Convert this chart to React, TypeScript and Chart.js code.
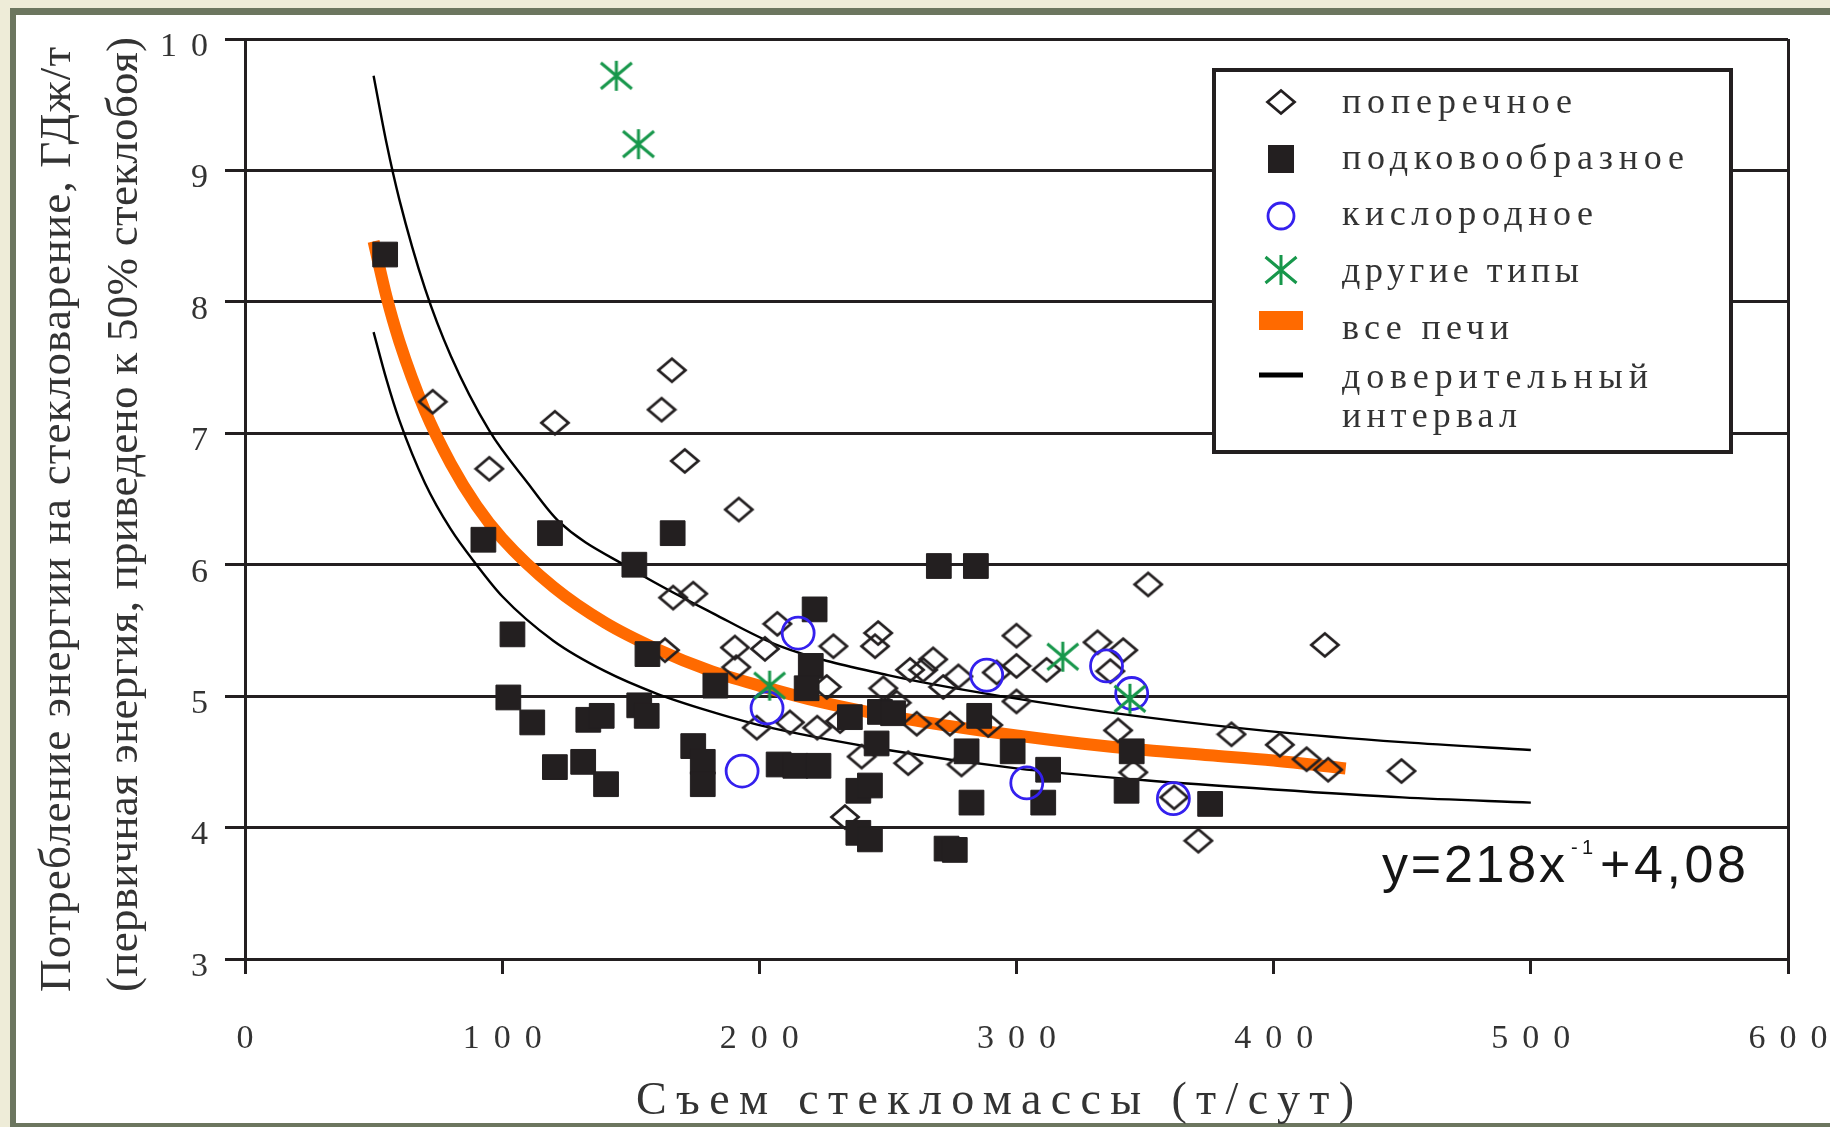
import React, { useEffect, useRef } from 'react';
import { Chart, registerables } from 'chart.js';

Chart.register(...registerables);

// ---------------- data ----------------
const seriesLabels = ['поперечное', 'подковообразное', 'кислородное', 'другие типы', 'все печи', 'доверительный интервал'];

const xTickValues = [0, 100, 200, 300, 400, 500, 600];
const yTickValues = [3, 4, 5, 6, 7, 8, 9, 10];

const xTitle = 'Съем стекломассы (т/сут)';
const yTitleLines = ['Потребление энергии на стекловарение, ГДж/т', '(первичная энергия, приведено к 50% стеклобоя)'];
const equationHead = 'y=218x';
const equationSup = '-1';
const equationTail = '+4,08';

// поперечное (hollow diamonds)
const transverseX = [73, 95, 120.5, 162, 166, 171, 192, 166.5, 174.3, 163.3, 190.5, 191, 202.2, 207, 199, 211.9, 222.5, 228.8, 226.2, 231.4, 239.8, 233.3, 246.2, 245, 248.2, 253.4, 258.6, 263.7, 267.6, 271.5, 277.4, 261.2, 257.9, 274.1, 278.6, 289, 292.3, 300, 300, 300, 311.7, 331.5, 341.5, 336.5, 339.5, 345.4, 351.2, 361.3, 370.7, 383.6, 402.4, 412.8, 421.2, 419.9, 449.7];
const transverseY = [7.24, 6.73, 7.08, 7.18, 7.48, 6.79, 6.42, 5.75, 5.78, 5.35, 5.37, 5.22, 5.36, 5.55, 4.76, 4.80, 4.76, 5.38, 5.07, 4.81, 4.54, 4.08, 5.48, 5.38, 5.06, 4.95, 5.20, 5.20, 5.28, 5.07, 5.15, 4.79, 4.49, 4.79, 4.48, 4.78, 5.18, 5.46, 5.23, 4.96, 5.20, 5.41, 5.35, 5.19, 4.74, 4.42, 5.85, 4.23, 3.90, 4.71, 4.63, 4.52, 4.44, 5.39, 4.43];

// подковообразное (filled squares)
const horseshoeX = [54.5, 92.7, 118.6, 166.3, 151.4, 104, 102.4, 111.7, 133.5, 138.7, 153.3, 156.2, 156.5, 182.9, 120.5, 131.5, 140.4, 174.3, 178, 178, 207.5, 214, 223, 221.5, 220, 218.4, 235.2, 246.9, 252, 245.6, 238.5, 243, 238.5, 243, 272.8, 276, 269.8, 284.2, 285.5, 280.6, 298.5, 312.3, 282.5, 310.4, 344.8, 342.8, 375.3];
const horseshoeY = [8.36, 6.19, 6.24, 6.24, 6.00, 5.47, 4.99, 4.80, 4.82, 4.85, 4.93, 4.85, 5.32, 5.08, 4.46, 4.50, 4.33, 4.62, 4.50, 4.33, 4.48, 4.47, 4.47, 5.66, 5.23, 5.06, 4.84, 4.88, 4.87, 4.64, 4.28, 4.32, 3.96, 3.91, 3.84, 3.83, 5.99, 5.99, 4.85, 4.58, 4.58, 4.44, 4.19, 4.19, 4.58, 4.28, 4.18];

// кислородное (blue circles)
const oxyX = [193.3, 203, 215.1, 288.4, 304, 335, 344.8, 361];
const oxyY = [4.43, 4.91, 5.48, 5.16, 4.34, 5.23, 5.02, 4.22];

// другие типы (green asterisks)
const otherX = [144.4, 153, 204, 318, 344.1];
const otherY = [9.72, 9.20, 5.08, 5.30, 4.98];

// все печи (orange curve)
const fitX = [50, 55, 60, 70, 80, 90, 100, 120, 140, 160, 180, 200, 225, 250, 275, 300, 325, 350, 375, 400, 428];
const fitY = [8.46, 8.04, 7.70, 7.17, 6.77, 6.45, 6.20, 5.83, 5.56, 5.36, 5.20, 5.08, 4.95, 4.85, 4.77, 4.70, 4.64, 4.59, 4.55, 4.51, 4.45];

// доверительный интервал (two thin black curves)
const upperX = [50, 55, 60, 70, 80, 95, 110, 122, 150, 182, 208, 250, 294, 350, 400, 450, 500];
const upperY = [9.72, 9.21, 8.78, 8.10, 7.59, 7.02, 6.62, 6.33, 5.97, 5.63, 5.38, 5.16, 5.00, 4.84, 4.73, 4.65, 4.59];
const lowerX = [50, 55, 60, 70, 80, 90, 100, 120, 140, 160, 180, 200, 250, 300, 350, 400, 450, 500];
const lowerY = [7.77, 7.41, 7.10, 6.62, 6.27, 6.00, 5.76, 5.42, 5.19, 5.02, 4.89, 4.78, 4.59, 4.45, 4.36, 4.29, 4.23, 4.19];

// ---------------- styling / layout ----------------
const W = 1830;
const H = 1127;
const INK = '#231F20';
const TEXT = '#333333';
const BLUE = '#3420EE';
const GREEN = '#17974B';
const ORANGE = '#FF6A00';
const BEIGE = '#EEECD8';
const OLIVE = '#6C765F';
const SERIF = '"Liberation Serif", "DejaVu Serif", serif';
const SANS = '"Liberation Sans", Arial, sans-serif';
const TICK_SPACING = 14;

const pts = (xs: number[], ys: number[]) => xs.map((x, i) => ({ x, y: ys[i] }));

function makeDiamond(): HTMLCanvasElement {
  const c = document.createElement('canvas');
  c.width = 32;
  c.height = 28;
  const g = c.getContext('2d')!;
  g.strokeStyle = INK;
  g.lineWidth = 2.8;
  g.beginPath();
  g.moveTo(2.5, 14);
  g.lineTo(16, 2.5);
  g.lineTo(29.5, 14);
  g.lineTo(16, 25.5);
  g.closePath();
  g.stroke();
  return c;
}

function makeAsterisk(): HTMLCanvasElement {
  const c = document.createElement('canvas');
  c.width = 36;
  c.height = 34;
  const g = c.getContext('2d')!;
  g.strokeStyle = GREEN;
  g.lineWidth = 3;
  g.beginPath();
  g.moveTo(18, 2);
  g.lineTo(18, 32);
  g.moveTo(2.5, 4);
  g.lineTo(33.5, 30);
  g.moveTo(2.5, 30);
  g.lineTo(33.5, 4);
  g.stroke();
  return c;
}

function drawFitted(ctx: any, text: string, x: number, y: number, target: number) {
  ctx.letterSpacing = '0px';
  const w = ctx.measureText(text).width;
  const n = Array.from(text).length;
  const s = n > 1 ? (target - w) / (n - 1) : 0;
  ctx.letterSpacing = s.toFixed(2) + 'px';
  ctx.textAlign = 'left';
  ctx.fillText(text, x, y);
  ctx.letterSpacing = '0px';
}

export default function App() {
  const ref = useRef<HTMLCanvasElement>(null);

  useEffect(() => {
    document.body.style.margin = '0';
    const canvas = ref.current;
    if (!canvas) return;
    const diamond = makeDiamond();
    const asterisk = makeAsterisk();

    const decor = {
      id: 'decor',
      afterDatasetsDraw(chart: any) {
        chart.ctx.letterSpacing = TICK_SPACING + 'px';
      },
      afterDraw(chart: any) {
        const ctx: any = chart.ctx;
        ctx.letterSpacing = '0px';
        ctx.save();
        ctx.fillStyle = TEXT;
        ctx.textBaseline = 'alphabetic';

        // y-axis title, two rotated lines
        ctx.font = `45px ${SERIF}`;
        const yLines = [
          { base: 70, start: 992, len: 945 },
          { base: 137, start: 992, len: 955 },
        ];
        yTitleLines.forEach((t, i) => {
          ctx.save();
          ctx.translate(yLines[i].base, yLines[i].start);
          ctx.rotate(-Math.PI / 2);
          drawFitted(ctx, t, 0, 0, yLines[i].len);
          ctx.restore();
        });

        // x-axis title
        ctx.font = `46px ${SERIF}`;
        drawFitted(ctx, xTitle, 636, 1114, 718);

        // legend box
        const box = { l: 1214, t: 70, r: 1731, b: 452 };
        ctx.fillStyle = '#ffffff';
        ctx.fillRect(box.l, box.t, box.r - box.l, box.b - box.t);
        ctx.strokeStyle = INK;
        ctx.lineWidth = 4;
        ctx.strokeRect(box.l, box.t, box.r - box.l, box.b - box.t);

        const mx = 1281;
        const rows = [
          { my: 102, lines: [seriesLabels[0]], base: [113], len: [230] },
          { my: 159, lines: [seriesLabels[1]], base: [169], len: [342] },
          { my: 216, lines: [seriesLabels[2]], base: [225], len: [251] },
          { my: 270, lines: [seriesLabels[3]], base: [282], len: [237] },
          { my: 321, lines: [seriesLabels[4]], base: [339], len: [167] },
          { my: 375, lines: seriesLabels[5].split(' '), base: [388, 427], len: [306, 175] },
        ];
        rows.forEach((row, i) => {
          if (i === 0) ctx.drawImage(diamond, mx - diamond.width / 2, row.my - diamond.height / 2);
          if (i === 1) {
            ctx.fillStyle = INK;
            ctx.fillRect(mx - 13, row.my - 14, 26, 28);
          }
          if (i === 2) {
            ctx.strokeStyle = BLUE;
            ctx.lineWidth = 2.8;
            ctx.beginPath();
            ctx.arc(mx, row.my, 13, 0, Math.PI * 2);
            ctx.stroke();
          }
          if (i === 3) ctx.drawImage(asterisk, mx - asterisk.width / 2, row.my - asterisk.height / 2);
          if (i === 4) {
            ctx.fillStyle = ORANGE;
            ctx.fillRect(mx - 22, row.my - 10, 44, 19);
          }
          if (i === 5) {
            ctx.fillStyle = '#000';
            ctx.fillRect(mx - 22, row.my - 2.5, 44, 5);
          }
          ctx.fillStyle = TEXT;
          ctx.font = `36px ${SERIF}`;
          row.lines.forEach((ln, j) => drawFitted(ctx, ln, 1342, row.base[j], row.len[j]));
        });

        // equation
        ctx.fillStyle = '#151515';
        ctx.font = `52px ${SANS}`;
        drawFitted(ctx, equationHead, 1382, 882, 183);
        ctx.font = `20px ${SANS}`;
        drawFitted(ctx, equationSup, 1571, 854, 22);
        ctx.font = `52px ${SANS}`;
        drawFitted(ctx, equationTail, 1600, 882, 146);

        ctx.restore();
        ctx.letterSpacing = '0px';
      },
    };

    const tickFont = { family: SERIF, size: 34 };

    const chart = new Chart(canvas, {
      type: 'scatter',
      data: {
        datasets: [
          {
            label: seriesLabels[0],
            data: pts(transverseX, transverseY),
            pointStyle: diamond as any,
            pointRadius: 14,
            order: 3,
          },
          {
            label: seriesLabels[1],
            data: pts(horseshoeX, horseshoeY),
            pointStyle: 'rect',
            pointRadius: 17.5,
            pointBorderWidth: 1,
            pointBackgroundColor: INK,
            pointBorderColor: INK,
            order: 2,
          },
          {
            label: seriesLabels[2],
            data: pts(oxyX, oxyY),
            pointStyle: 'circle',
            pointRadius: 16,
            pointBorderWidth: 2.8,
            pointBackgroundColor: 'rgba(0,0,0,0)',
            pointBorderColor: BLUE,
            order: 1,
          },
          {
            label: seriesLabels[3],
            data: pts(otherX, otherY),
            pointStyle: asterisk as any,
            pointRadius: 16,
            order: 0,
          },
          {
            label: seriesLabels[4],
            data: pts(fitX, fitY),
            showLine: true,
            pointRadius: 0,
            borderColor: ORANGE,
            borderWidth: 12,
            cubicInterpolationMode: 'monotone',
            order: 6,
          },
          {
            label: seriesLabels[5],
            data: pts(upperX, upperY),
            showLine: true,
            pointRadius: 0,
            borderColor: '#000',
            borderWidth: 2.4,
            cubicInterpolationMode: 'monotone',
            order: 5,
          },
          {
            label: seriesLabels[5],
            data: pts(lowerX, lowerY),
            showLine: true,
            pointRadius: 0,
            borderColor: '#000',
            borderWidth: 2.4,
            cubicInterpolationMode: 'monotone',
            order: 5,
          },
        ] as any,
      },
      options: {
        animation: false,
        responsive: false,
        devicePixelRatio: 1,
        events: [],
        layout: { padding: { left: 0, right: 42, top: 39, bottom: 0 } },
        plugins: {
          legend: { display: false },
          tooltip: { enabled: false },
          title: { display: false },
        },
        scales: {
          x: {
            type: 'linear',
            position: 'bottom',
            min: xTickValues[0],
            max: xTickValues[xTickValues.length - 1],
            afterFit: (s: any) => {
              s.height = 168;
              s.paddingLeft = 0;
              s.paddingRight = 0;
            },
            border: { display: true, color: INK, width: 3 },
            grid: {
              display: true,
              drawOnChartArea: true,
              drawTicks: true,
              tickLength: 15,
              lineWidth: 3,
              tickWidth: 3,
              tickColor: INK,
              color: (c: any) => (c.tick && c.tick.value === xTickValues[xTickValues.length - 1] ? INK : 'rgba(0,0,0,0)'),
            },
            ticks: {
              stepSize: xTickValues[1] - xTickValues[0],
              autoSkip: false,
              maxRotation: 0,
              padding: 45,
              labelOffset: TICK_SPACING / 2,
              font: tickFont,
              color: TEXT,
              z: 1,
            },
          },
          y: {
            type: 'linear',
            position: 'left',
            min: yTickValues[0],
            max: yTickValues[yTickValues.length - 1],
            afterFit: (s: any) => {
              s.width = 245;
              s.paddingTop = 0;
              s.paddingBottom = 0;
            },
            border: { display: true, color: INK, width: 3 },
            grid: {
              display: true,
              drawOnChartArea: true,
              drawTicks: true,
              tickLength: 20,
              lineWidth: 3,
              tickWidth: 3,
              color: INK,
              tickColor: INK,
            },
            ticks: {
              stepSize: yTickValues[1] - yTickValues[0],
              autoSkip: false,
              padding: 17 - TICK_SPACING,
              labelOffset: 8,
              font: tickFont,
              color: TEXT,
              z: 1,
            },
          },
        },
      } as any,
      plugins: [decor as any],
    });

    return () => chart.destroy();
  }, []);

  return (
    <div style={{ position: 'fixed', left: 0, top: 0, width: W, height: H, background: BEIGE, overflow: 'hidden' }}>
      <div
        style={{
          position: 'absolute',
          left: 10,
          top: 8,
          width: W,
          height: H - 8,
          boxSizing: 'border-box',
          borderLeft: `6px solid ${OLIVE}`,
          borderTop: `7px solid ${OLIVE}`,
          borderBottom: `4px solid ${OLIVE}`,
          background: '#ffffff',
        }}
      />
      <canvas ref={ref} width={W} height={H} style={{ position: 'absolute', left: 0, top: 0, width: W, height: H }} />
    </div>
  );
}
